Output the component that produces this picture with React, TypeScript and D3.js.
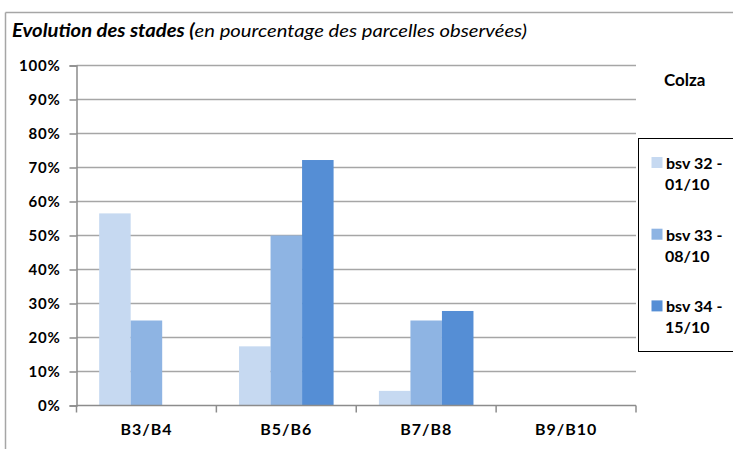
import { select, axisLeft, scaleLinear, scaleBand } from "d3";
import React, { useEffect, useRef } from "react";

const categories = ["B3/B4", "B5/B6", "B7/B8", "B9/B10"];
const seriesKeys = ["bsv32", "bsv33", "bsv34"];
const seriesLabels = [
  ["bsv 32 -", "01/10"],
  ["bsv 33 -", "08/10"],
  ["bsv 34 -", "15/10"],
];
const bsv32 = [56.5, 17.4, 4.3, 0];
const bsv33 = [25, 50, 25, 0];
const bsv34 = [0, 72.2, 27.8, 0];
const yTicks = [0, 10, 20, 30, 40, 50, 60, 70, 80, 90, 100];
const colors = ["#c6d9f1", "#8eb4e3", "#558ed5"];

const FONT = "Lato, 'Liberation Sans', sans-serif";

const App = () => {
  const svgRef = useRef<SVGSVGElement>(null);

  useEffect(() => {
    const svg = select(svgRef.current);
    const left = 76.5;
    const right = 636;
    const top = 65.5;
    const bottom = 405.5;

    const xScale = scaleBand().domain(categories).range([left, right]);
    const bw = xScale.bandwidth();
    const inner = scaleBand()
      .domain(seriesKeys)
      .range([bw * 0.162, bw * 0.838]);
    const yScale = scaleLinear().domain([0, 100]).range([bottom, top]);

    const table = [bsv32, bsv33, bsv34];

    // gridlines
    svg
      .select(".grid")
      .selectAll("line")
      .data(yTicks.filter((d) => d > 0))
      .join("line")
      .attr("x1", left)
      .attr("x2", right)
      .attr("y1", (d) => yScale(d))
      .attr("y2", (d) => yScale(d))
      .attr("stroke", "#a6a6a6")
      .attr("stroke-width", 1.5);

    // bars
    svg
      .select(".bars")
      .selectAll("g")
      .data(table)
      .join("g")
      .attr("fill", (d, i) => colors[i])
      .each(function (values, si) {
        select(this)
          .selectAll("rect")
          .data(values)
          .join("rect")
          .attr("x", (v, ci) => (xScale(categories[ci]) as number) + (inner(seriesKeys[si]) as number))
          .attr("width", inner.bandwidth())
          .attr("y", (v) => yScale(v))
          .attr("height", (v) => bottom - yScale(v));
      });

    // y axis
    const yAxis = axisLeft(yScale)
      .tickValues(yTicks)
      .tickSize(7)
      .tickPadding(9)
      .tickFormat((d) => d + "%");
    const yg = svg.select(".y-axis").attr("transform", `translate(${left},0)`);
    yg.call(yAxis as any);
    yg.selectAll("path, line").attr("stroke", "#8c8c8c").attr("stroke-width", 1.5);
    yg.selectAll("text")
      .attr("font-family", FONT)
      .attr("font-weight", "bold")
      .attr("font-size", 15)
      .attr("letter-spacing", 0.8)
      .attr("fill", "#000");

    // x axis: ticks sit on the band boundaries
    const xg = svg.select(".x-axis");
    const bounds = categories.map((c) => xScale(c) as number).concat([right]);
    xg.selectAll("line.tick")
      .data(bounds)
      .join("line")
      .attr("class", "tick")
      .attr("x1", (d) => d)
      .attr("x2", (d) => d)
      .attr("y1", bottom)
      .attr("y2", bottom + 7)
      .attr("stroke", "#8c8c8c")
      .attr("stroke-width", 1.5);
    xg.selectAll("line.domain")
      .data([0])
      .join("line")
      .attr("class", "domain")
      .attr("x1", left)
      .attr("x2", right)
      .attr("y1", bottom)
      .attr("y2", bottom)
      .attr("stroke", "#8c8c8c")
      .attr("stroke-width", 1.5);
    xg.selectAll("text")
      .data(categories)
      .join("text")
      .attr("x", (d) => (xScale(d) as number) + bw / 2)
      .attr("y", 435)
      .attr("text-anchor", "middle")
      .attr("font-family", FONT)
      .attr("font-weight", "bold")
      .attr("font-size", 16)
      .attr("letter-spacing", 1)
      .text((d) => d);
  }, []);

  return (
    <svg
      ref={svgRef}
      width={733}
      height={449}
      style={{ position: "absolute", left: 0, top: 0, background: "#fff" }}
    >
      <rect x={0} y={0} width={733} height={449} fill="#fff" />
      {/* chart frame */}
      <line x1={5.5} x2={733} y1={12.5} y2={12.5} stroke="#a6a6a6" strokeWidth={1.5} />
      <line x1={5.5} x2={5.5} y1={12.5} y2={449} stroke="#a6a6a6" strokeWidth={1.5} />
      <text
        x={12}
        y={37}
        fontFamily={FONT}
        fontSize={18}
        fontStyle="italic"
        textLength={515}
        lengthAdjust="spacingAndGlyphs"
      >
        <tspan fontWeight="bold">Evolution des stades (</tspan>
        <tspan>en pourcentage des parcelles observées)</tspan>
      </text>
      <g className="grid" />
      <g className="bars" />
      <g className="y-axis" />
      <g className="x-axis" />
      <text x={664} y={86} fontFamily={FONT} fontWeight="bold" fontSize={17}>
        Colza
      </text>
      <rect x={638.5} y={138.5} width={100} height={213} fill="#fff" stroke="#000" strokeWidth={1} />
      {seriesLabels.map((lab, i) => (
        <g key={i} transform={`translate(0,${i * 71.7})`}>
          <rect x={651.5} y={157} width={11} height={11} fill={colors[i]} />
          <text x={666} y={169} fontFamily={FONT} fontWeight="bold" fontSize={16}>
            {lab[0]}
          </text>
          <text x={665} y={190} fontFamily={FONT} fontWeight="bold" fontSize={16}>
            {lab[1]}
          </text>
        </g>
      ))}
    </svg>
  );
};

export default App;
